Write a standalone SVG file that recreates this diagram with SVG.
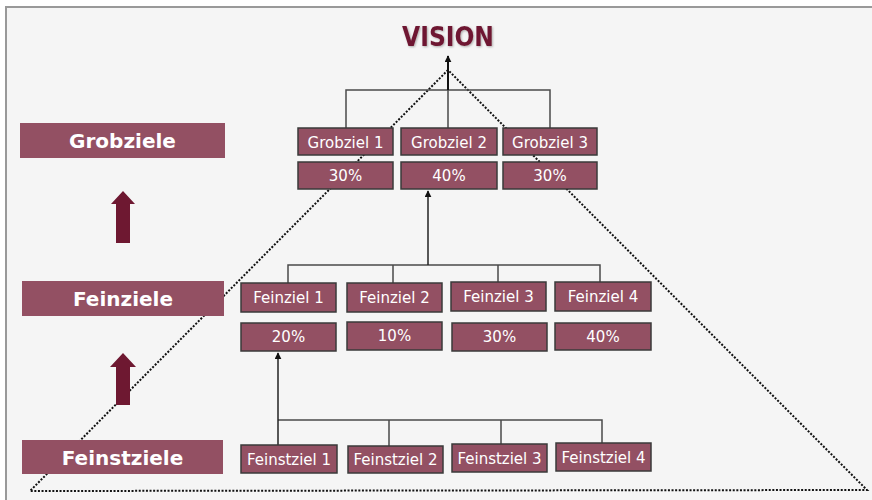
<svg xmlns="http://www.w3.org/2000/svg" width="872" height="500" viewBox="0 0 872 500">
<defs>
<style>
.lbl{fill:#935063}
.lbltx{fill:#fff;font-family:"DejaVu Sans",sans-serif;font-weight:bold;font-size:20px;text-anchor:middle}
.box{fill:#935063;stroke:#3a3a3a;stroke-width:1.5}
.bt{fill:#fff;font-family:"DejaVu Sans",sans-serif;font-size:15px;text-anchor:middle}
.con{fill:none;stroke:#4a4a4a;stroke-width:1.5}
.big{fill:#6e1831}
.dot{fill:none;stroke:#111;stroke-width:2;stroke-dasharray:2 1.6}
</style>
<marker id="ah" viewBox="0 0 10 10" refX="9" refY="5" markerWidth="7" markerHeight="7" markerUnits="userSpaceOnUse" orient="auto">
<path d="M0,0 L10,5 L0,10 z" fill="#111"/>
</marker>
<filter id="sh" x="-10%" y="-20%" width="130%" height="150%">
<feDropShadow dx="1" dy="1" stdDeviation="0.8" flood-color="#000" flood-opacity="0.3"/>
</filter>
</defs>
<rect width="872" height="500" fill="#fff"/>
<rect x="6" y="7" width="870" height="500" fill="#f5f5f5" stroke="#999" stroke-width="2"/>

<text x="448" y="46" font-family="DejaVu Sans Condensed,DejaVu Sans,sans-serif" font-stretch="condensed" font-weight="bold" font-size="26" fill="#6e1831" text-anchor="middle" filter="url(#sh)">VISION</text>

<g id="triangle">
<path class="dot" d="M448,70 L30,491 L867,490 Z"/>
</g>

<g id="label-grobziele"><rect class="lbl" x="20" y="123" width="205" height="35"/><text class="lbltx" x="122.5" y="148">Grobziele</text></g>
<g id="label-feinziele"><rect class="lbl" x="22" y="281" width="202" height="35"/><text class="lbltx" x="123" y="306">Feinziele</text></g>
<g id="label-feinstziele"><rect class="lbl" x="22" y="440" width="201" height="34"/><text class="lbltx" x="122.5" y="465">Feinstziele</text></g>

<g id="bigarrow1"><path class="big" d="M123,191 L135,204 L130,204 L130,243 L116,243 L116,204 L111,204 Z"/></g>
<g id="bigarrow2"><path class="big" d="M123,353 L136,367 L130,367 L130,405 L116,405 L116,367 L110,367 Z"/></g>

<g id="connectors">
<path class="con" d="M346,128 V90 H550 V128 M448,128 V90"/>
<line x1="448" y1="90" x2="448" y2="56" stroke="#111" stroke-width="2" marker-end="url(#ah)"/>
<path class="con" d="M288,283 V265 H600 V282 M393,283 V265 M498,282 V265"/>
<line x1="428" y1="265" x2="428" y2="191" stroke="#222" stroke-width="1.5" marker-end="url(#ah)"/>
<path class="con" d="M389,446 V420 H602 V443 M501,444 V420 M278,420 H389"/>
<line x1="278" y1="445" x2="278" y2="353" stroke="#222" stroke-width="1.5" marker-end="url(#ah)"/>
</g>

<g id="grobziel1"><rect class="box" x="298" y="128" width="95" height="27"/><text class="bt" x="345.5" y="147.5">Grobziel 1</text></g>
<g id="grobziel2"><rect class="box" x="401" y="128" width="96" height="27"/><text class="bt" x="449" y="147.5">Grobziel 2</text></g>
<g id="grobziel3"><rect class="box" x="503" y="128" width="94" height="27"/><text class="bt" x="550" y="147.5">Grobziel 3</text></g>
<g id="grob-p1"><rect class="box" x="298" y="162" width="95" height="27"/><text class="bt" x="345.5" y="181">30%</text></g>
<g id="grob-p2"><rect class="box" x="401" y="162" width="96" height="27"/><text class="bt" x="449" y="181">40%</text></g>
<g id="grob-p3"><rect class="box" x="503" y="162" width="94" height="27"/><text class="bt" x="550" y="181">30%</text></g>

<g id="feinziel1"><rect class="box" x="241" y="283" width="95" height="29"/><text class="bt" x="288.5" y="303">Feinziel 1</text></g>
<g id="feinziel2"><rect class="box" x="347" y="283" width="95" height="29"/><text class="bt" x="394.5" y="303">Feinziel 2</text></g>
<g id="feinziel3"><rect class="box" x="451" y="282" width="95" height="29"/><text class="bt" x="498.5" y="302">Feinziel 3</text></g>
<g id="feinziel4"><rect class="box" x="555" y="282" width="96" height="29"/><text class="bt" x="603" y="302">Feinziel 4</text></g>
<g id="fein-p1"><rect class="box" x="241" y="323" width="95" height="28"/><text class="bt" x="288.5" y="342">20%</text></g>
<g id="fein-p2"><rect class="box" x="347" y="322" width="95" height="28"/><text class="bt" x="394.5" y="341">10%</text></g>
<g id="fein-p3"><rect class="box" x="452" y="323" width="95" height="28"/><text class="bt" x="499.5" y="342">30%</text></g>
<g id="fein-p4"><rect class="box" x="555" y="323" width="96" height="27"/><text class="bt" x="603" y="342">40%</text></g>

<g id="feinstziel1"><rect class="box" x="241" y="445" width="96" height="28"/><text class="bt" x="289" y="464.5">Feinstziel 1</text></g>
<g id="feinstziel2"><rect class="box" x="348" y="446" width="95" height="27"/><text class="bt" x="395.5" y="465">Feinstziel 2</text></g>
<g id="feinstziel3"><rect class="box" x="452" y="444" width="95" height="28"/><text class="bt" x="499.5" y="463.5">Feinstziel 3</text></g>
<g id="feinstziel4"><rect class="box" x="556" y="443" width="95" height="28"/><text class="bt" x="603.5" y="462.5">Feinstziel 4</text></g>
</svg>
